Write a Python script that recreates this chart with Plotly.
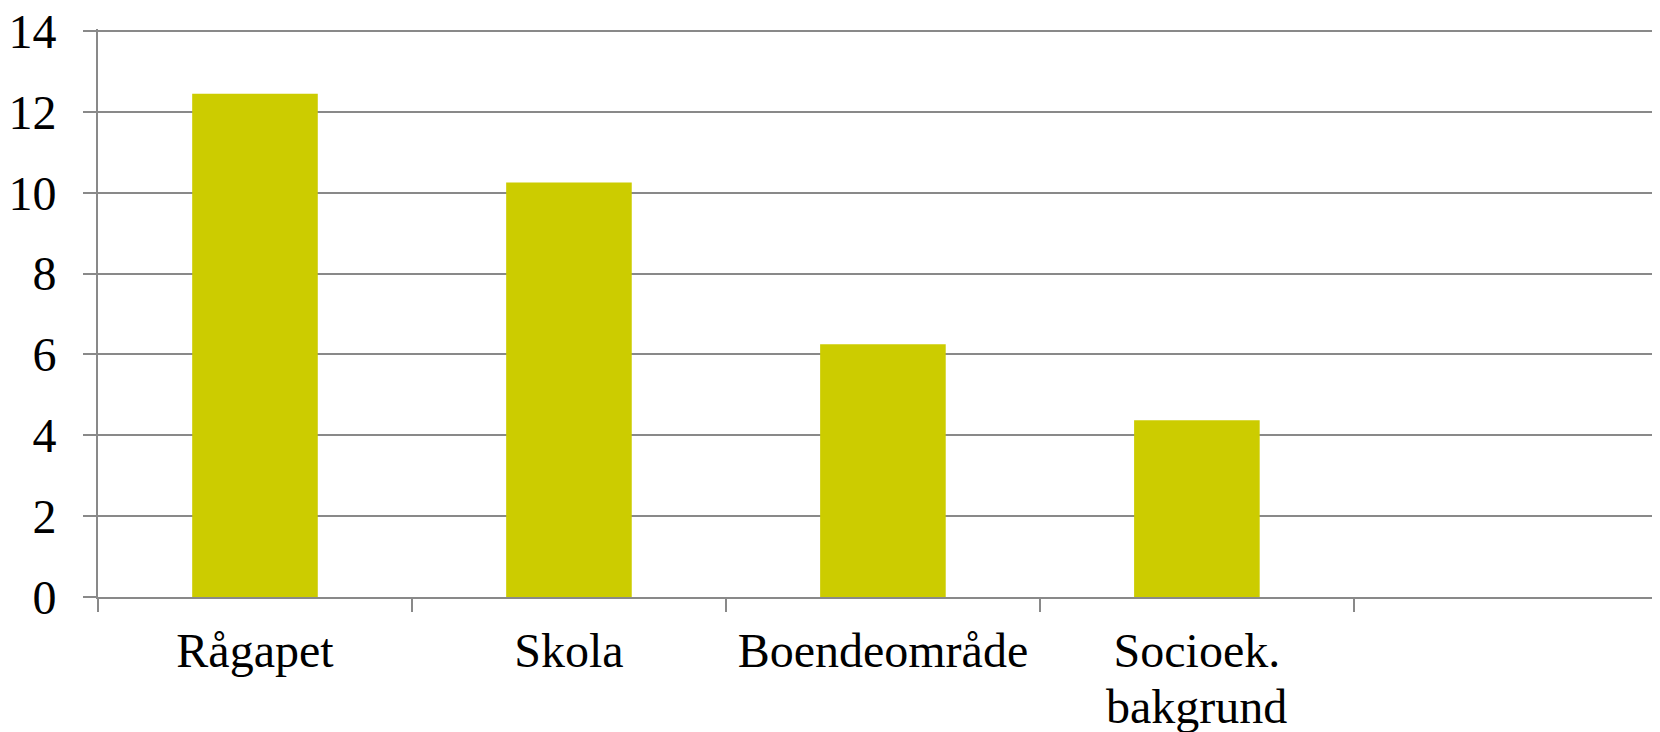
import plotly.graph_objects as go

categories = ["Rågapet", "Skola", "Boendeområde", "Socioek. bakgrund"]
tick_text = ["Rågapet", "Skola", "Boendeområde", "Socioek."]
second_line = ["", "", "", "bakgrund"]
values = [12.45, 10.25, 6.25, 4.37]
y_ticks = [0, 2, 4, 6, 8, 10, 12, 14]

bar_color = "#CCCC00"
grid_color = "#898989"
font = dict(family="Liberation Serif", size=48, color="black")

fig = go.Figure(go.Bar(x=categories, y=values, marker=dict(color=bar_color, line=dict(width=0))))

for cat, txt in zip(categories, second_line):
    if txt:
        fig.add_annotation(x=cat, xref="x", y=0, yref="paper", yanchor="top",
                           yshift=-81, text=txt, showarrow=False, font=font)

fig.update_layout(
    width=1652, height=724,
    margin=dict(l=90, r=0, t=21, b=135),
    paper_bgcolor="white", plot_bgcolor="white",
    bargap=0.6, showlegend=False, font=font,
)
fig.update_yaxes(
    range=[0, 14.05], tickvals=y_ticks, showgrid=True, gridcolor=grid_color, gridwidth=2,
    showline=True, linecolor=grid_color, linewidth=2,
    ticks="outside", ticklen=13, tickcolor=grid_color, tickwidth=2,
    ticklabelstandoff=17, ticklabeloverflow="allow",
    zeroline=False, tickfont=font, automargin=False,
)
fig.update_xaxes(
    type="category", categoryarray=categories, tickvals=categories, ticktext=tick_text,
    range=[-0.5, 4.475],
    showline=True, linecolor=grid_color, linewidth=2,
    ticks="outside", ticklen=13, tickcolor=grid_color, tickwidth=2,
    tickson="boundaries", showgrid=False, tickfont=font, ticklabelstandoff=10,
    automargin=False,
)
fig.write_html("out.html")
